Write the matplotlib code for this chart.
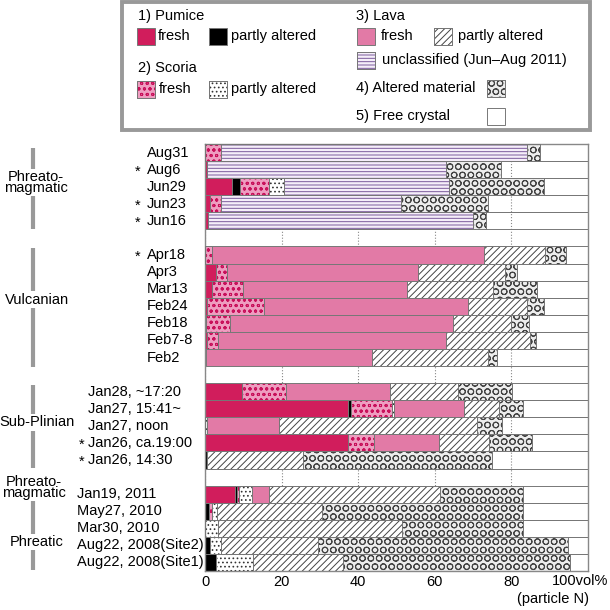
import matplotlib.pyplot as plt
from matplotlib.patches import Rectangle
from matplotlib import transforms

plt.rcParams['font.family'] = ['Liberation Sans', 'DejaVu Sans']
plt.rcParams['hatch.linewidth'] = 0.7

# samples, top to bottom, split into blocks separated by an empty row
labels = ["Aug31", "Aug6", "Jun29", "Jun23", "Jun16",
          "Apr18", "Apr3", "Mar13", "Feb24", "Feb18", "Feb7-8", "Feb2",
          "Jan28, ~17:20", "Jan27, 15:41~", "Jan27, noon", "Jan26, ca.19:00", "Jan26, 14:30",
          "Jan19, 2011", "May27, 2010", "Mar30, 2010", "Aug22, 2008(Site2)", "Aug22, 2008(Site1)"]
starred = [0, 1, 0, 1, 1,
           1, 0, 0, 0, 0, 0, 0,
           0, 0, 0, 1, 1,
           0, 0, 0, 0, 0]
block_sizes = [5, 7, 5, 5]

# vol% of each component (particle N)
pumice_fresh   = [0, 0.5, 7.0, 1.3, 0.9,  0, 2.8, 1.9, 0.4, 0.3, 0.4, 0.2,  9.6, 37.3, 0, 37.4, 0,  7.8, 0, 0, 0, 0]
pumice_altered = [0, 0, 2.1, 0, 0,  0, 0, 0, 0, 0, 0, 0,  0, 0.7, 0, 0, 0.6,  0.6, 1.1, 0, 1.3, 2.9]
scoria_fresh   = [4.2, 0, 7.6, 2.8, 0,  1.7, 2.9, 8.1, 15.1, 6.2, 3.1, 0,  11.5, 10.9, 0, 6.7, 0,  0.5, 0.6, 0, 0, 0]
scoria_altered = [0, 0, 4.0, 0, 0,  0, 0, 0, 0, 0, 0, 0,  0, 0.5, 0.6, 0, 0,  3.3, 1.5, 3.5, 2.8, 9.6]
lava_fresh     = [0, 0, 0, 0, 0,  71.1, 50.0, 42.7, 53.1, 58.2, 59.3, 43.3,  27.2, 18.3, 18.8, 17.1, 0,  4.5, 0, 0, 0, 0]
lava_altered   = [0, 0, 0, 0, 0,  16.0, 22.6, 22.6, 15.4, 15.1, 22.1, 30.5,  17.7, 9.1, 51.7, 13.0, 25.1,  44.7, 27.4, 48.0, 25.5, 23.5]
unclassified   = [80.0, 62.3, 43.1, 47.2, 69.0,  0, 0, 0, 0, 0, 0, 0,  0, 0, 0, 0, 0,  0, 0, 0, 0, 0]
altered_mat    = [3.3, 14.5, 24.8, 22.7, 3.4,  5.5, 3.2, 11.3, 4.6, 4.8, 1.5, 2.2,  14.1, 6.1, 6.4, 11.1, 49.3,  21.5, 52.3, 31.4, 65.3, 59.3]

components = [pumice_fresh, pumice_altered, scoria_fresh, scoria_altered,
              lava_fresh, lava_altered, unclassified, altered_mat]
free_crystal = [100 - sum(c[i] for c in components) for i in range(len(labels))]

# face colour, hatch, hatch colour
styles = {
    'pf': ('#d11d5c', None, None),
    'pa': ('black', None, None),
    'sf': ('#ee9dc0', 'ooo', '#c8105a'),
    'sa': ('white', '....', '#333333'),
    'lf': ('#e27aa6', None, None),
    'la': ('white', '/////', '#444444'),
    'un': ('#f5eef9', '-----', '#7a5a9c'),
    'am': ('#ededed', 'OO', '#444444'),
    'fc': ('none', None, None),
}
keys = ['pf', 'pa', 'sf', 'sa', 'lf', 'la', 'un', 'am']

EDGE = '#777777'
FS = 10.5
W, H = 610, 610
fig = plt.figure(figsize=(6.1, 6.1), dpi=100)


def fx(x):
    return x / W


def fy(y):
    return 1 - y / H


ax = fig.add_axes([fx(205), fy(571), (588 - 205) / W, (571 - 144) / H])

# row positions: one empty row between blocks
pos = []
r = 0
for n in block_sizes:
    pos.extend(range(r, r + n))
    r += n + 1
nrows = r - 1
yc = [p + 0.5 for p in pos]

ax.set_xlim(0, 100)
ax.set_ylim(nrows, 0)
ax.set_axisbelow(True)
ax.xaxis.grid(True, ls=':', color='#888888', lw=0.8)

left = [0.0] * len(labels)
for key, vals in zip(keys, components):
    face, hatch, hcol = styles[key]
    idx = [i for i, v in enumerate(vals) if v > 0]
    ys = [yc[i] for i in idx]
    ws = [vals[i] for i in idx]
    ls = [left[i] for i in idx]
    ax.barh(ys, ws, left=ls, height=1.0, color=face, edgecolor=EDGE, lw=0.7, zorder=2)
    if hatch:
        ax.barh(ys, ws, left=ls, height=1.0, color='none', edgecolor=hcol,
                hatch=hatch, lw=0, zorder=2.5)
        ax.barh(ys, ws, left=ls, height=1.0, color='none', edgecolor=EDGE, lw=0.7, zorder=2.6)
    for i in idx:
        left[i] += vals[i]
ax.barh(yc, free_crystal, left=left, height=1.0, color='none', edgecolor=EDGE, lw=0.7, zorder=2)

for s in ax.spines.values():
    s.set_color('#888888')
    s.set_linewidth(1)
ax.set_yticks([])
ax.set_xticks([0, 20, 40, 60, 80])
ax.set_xticklabels(['0', '20', '40', '60', '80'], fontsize=FS)
ax.tick_params(axis='x', length=0, pad=3)
fig.text(fx(608), fy(581), '100vol%', ha='right', va='center', fontsize=FS)
fig.text(fx(589), fy(599), '(particle N)', ha='right', va='center', fontsize=FS)

# sample labels
trans = transforms.blended_transform_factory(fig.transFigure, ax.transData)
label_x = [147, 147, 88, 77]
star_x = [135, 135, 79, 70]
k = 0
for b, n in enumerate(block_sizes):
    for _ in range(n):
        ax.text(fx(label_x[b]), yc[k], labels[k], transform=trans, ha='left', va='center', fontsize=FS)
        if starred[k]:
            ax.text(fx(star_x[b]), yc[k] + 0.1, '*', transform=trans, ha='left', va='center', fontsize=FS)
        k += 1

# eruption-style brackets (y in row units)
group_names = ['Phreato-\nmagmatic', 'Vulcanian', 'Sub-Plinian', 'Phreato-\nmagmatic', 'Phreatic']
group_spans = [(0.25, 5.0), (6.1, 13.05), (14.1, 18.95), None, (20.75, 24.95)]
group_text_y = [2.25, 9.13, 16.28, 20.1, 23.3]
group_text_x = [36, 37, 37, 34, 37]
for name, span, ty, tx in zip(group_names, group_spans, group_text_y, group_text_x):
    if span:
        ax.plot([fx(33), fx(33)], span, transform=trans, color='#999999', lw=3,
                solid_capstyle='butt', clip_on=False)
    ax.text(fx(tx), ty, name, transform=trans, ha='center', va='center', fontsize=FS,
            linespacing=0.72,
            bbox=dict(facecolor='white', edgecolor='none', pad=1.0))

# legend box
fig.add_artist(Rectangle((fx(122), fy(130)), (590 - 122) / W, (130 - 2) / H,
                         transform=fig.transFigure, facecolor='white',
                         edgecolor='#999999', lw=2.8))


def swatch(x, y, key):
    face, hatch, hcol = styles[key]
    if face == 'none':
        face = 'white'
    xy = (fx(x), fy(y + 17))
    w, h = 18 / W, 17 / H
    fig.add_artist(Rectangle(xy, w, h, transform=fig.transFigure, facecolor=face,
                             edgecolor=EDGE, lw=0.7))
    if hatch:
        fig.add_artist(Rectangle(xy, w, h, transform=fig.transFigure, facecolor='none',
                                 edgecolor=hcol, hatch=hatch, lw=0))
        fig.add_artist(Rectangle(xy, w, h, transform=fig.transFigure, facecolor='none',
                                 edgecolor=EDGE, lw=0.7))


def ltext(x, y, s):
    fig.text(fx(x), fy(y), s, ha='left', va='center', fontsize=FS)


ltext(138, 16, '1) Pumice')
swatch(137, 28, 'pf')
ltext(158, 36, 'fresh')
swatch(209, 28, 'pa')
ltext(231, 36, 'partly altered')
ltext(138, 68, '2) Scoria')
swatch(137, 81, 'sf')
ltext(159, 89, 'fresh')
swatch(209, 81, 'sa')
ltext(231, 89, 'partly altered')
ltext(356, 16, '3) Lava')
swatch(357, 28, 'lf')
ltext(381, 36, 'fresh')
swatch(434, 28, 'la')
ltext(458, 36, 'partly altered')
swatch(357, 52, 'un')
ltext(382, 60, 'unclassified (Jun\u2013Aug 2011)')
ltext(356, 88, '4) Altered material')
swatch(487, 80, 'am')
ltext(356, 116, '5) Free crystal')
swatch(487, 108, 'fc')

fig.savefig('out.png', dpi=100)
